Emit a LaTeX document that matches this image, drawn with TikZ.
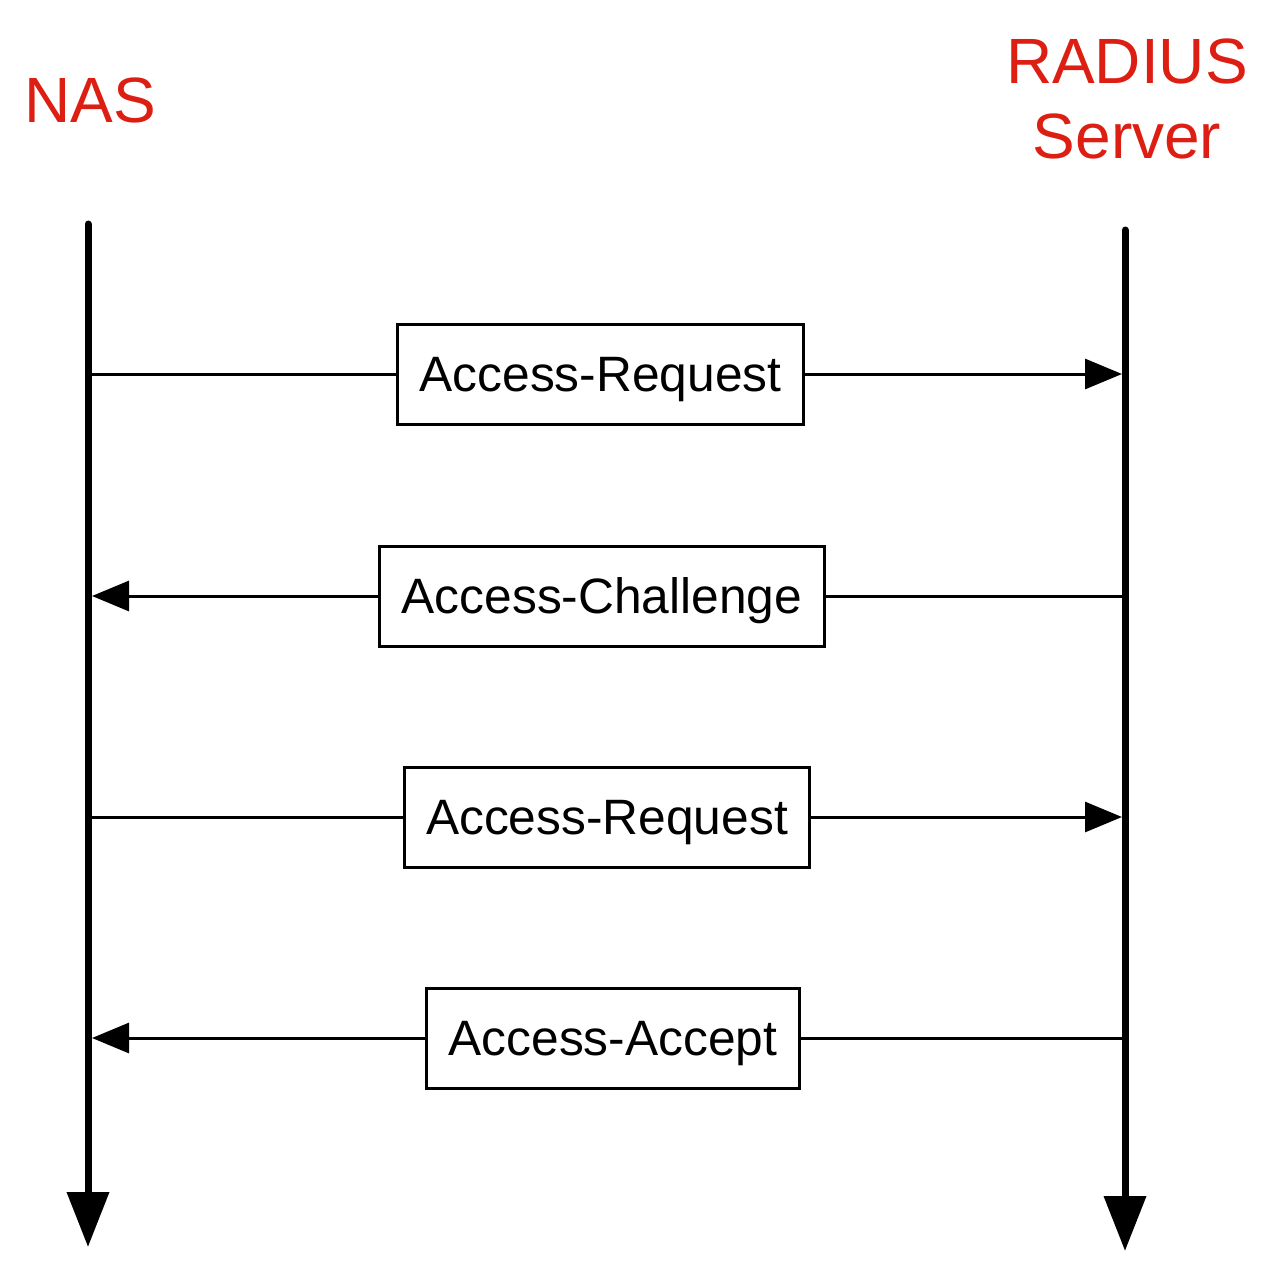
\documentclass[tikz,border=0pt]{standalone}
\usepackage{fontspec}
\setmainfont{Liberation Sans}
\usetikzlibrary{arrows.meta}
\definecolor{titlered}{RGB}{221,30,18}
\tikzset{
  lifeline/.style={line width=7pt, line cap=round, -{Triangle[length=55pt,width=41pt]}},
  msgline/.style={line width=3pt},
  msgarrow/.style={line width=3pt, -{Triangle[length=37pt,width=30pt]}},
  msgbox/.style={draw, line width=3pt, fill=white, minimum height=100pt, inner xsep=22pt,
    text height=35.6pt, text depth=0pt, font=\fontsize{49.7}{60}\selectfont},
  title/.style={text=titlered, font=\fontsize{64}{75}\selectfont, align=center, inner sep=0pt}
}
\begin{document}
\begin{tikzpicture}[x=1pt,y=-1pt]
\useasboundingbox (0,0) rectangle (1270,1266);
% titles
\node[title, anchor=base] (nas) at (90,122) {NAS};
\node[title, anchor=base] (rad1) at (1127,83) {RADIUS};
\node[title, anchor=base] (rad2) at (1127,158) {Server};
% lifelines
\coordinate (nastop) at (88,224);
\coordinate (nasbot) at (88,1247);
\coordinate (radtop) at (1125,230);
\coordinate (radbot) at (1125,1251);
\draw[lifeline] (nastop) -- (nasbot);
\draw[lifeline] (radtop) -- (radbot);
% message boxes
\node[msgbox] (m1) at (600.5,374) {Access-Request};
\node[msgbox] (m2) at (602,596) {Access-Challenge};
\node[msgbox] (m3) at (607,817) {Access-Request};
\node[msgbox] (m4) at (613,1038) {Access-Accept};
% lifeline anchor points
\coordinate (l1) at (91,374);   \coordinate (r1) at (1122,374);
\coordinate (l2) at (92,596);   \coordinate (r2) at (1122,596);
\coordinate (l3) at (91,817);   \coordinate (r3) at (1122,817);
\coordinate (l4) at (92,1038);  \coordinate (r4) at (1122,1038);
% messages
\draw[msgline] (l1) -- (m1.west);
\draw[msgarrow] (m1.east) -- (r1);
\draw[msgline] (r2) -- (m2.east);
\draw[msgarrow] (m2.west) -- (l2);
\draw[msgline] (l3) -- (m3.west);
\draw[msgarrow] (m3.east) -- (r3);
\draw[msgline] (r4) -- (m4.east);
\draw[msgarrow] (m4.west) -- (l4);
\end{tikzpicture}
\end{document}
